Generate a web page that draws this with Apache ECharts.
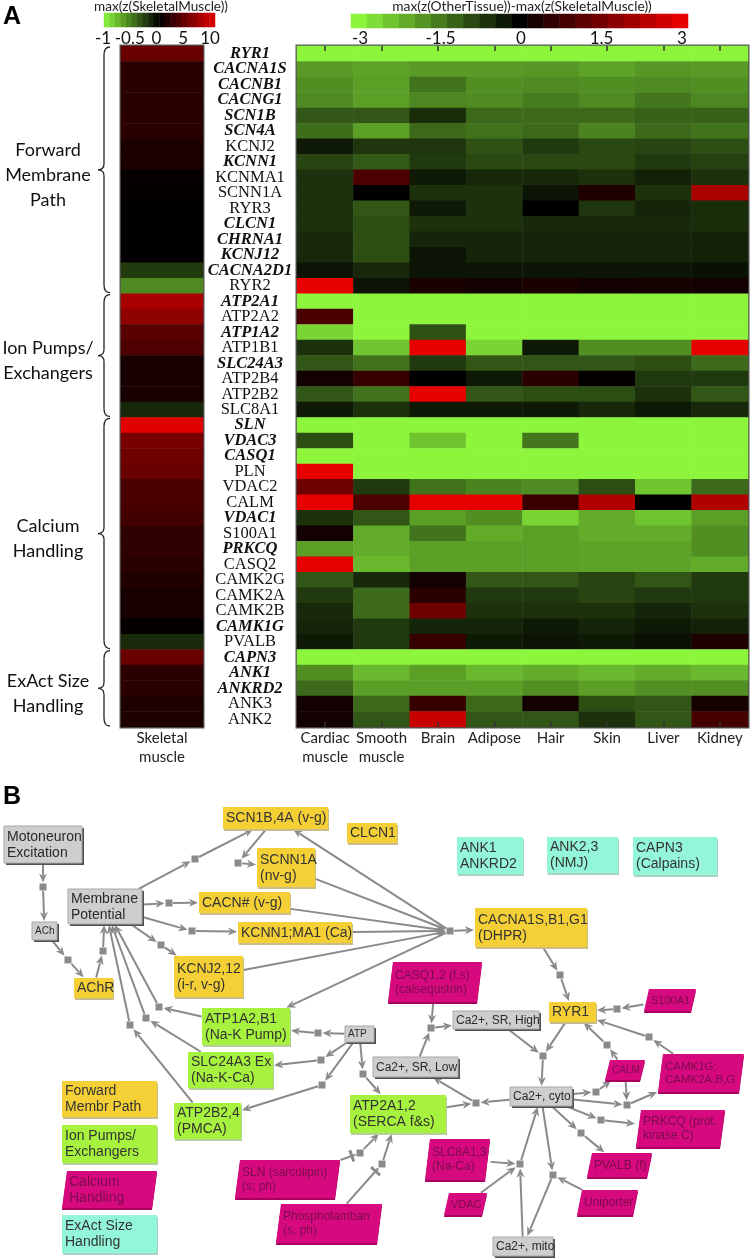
<!DOCTYPE html>
<html><head><meta charset="utf-8">
<script src="https://cdn.jsdelivr.net/npm/echarts@6/dist/echarts.min.js"></script>
<style>html,body{margin:0;padding:0;background:#fff}#c{width:750px;height:1258px}</style>
</head><body><div id="c"></div>
<script>
// ---------------- DATA ----------------
const genes = ['RYR1','CACNA1S','CACNB1','CACNG1','SCN1B','SCN4A','KCNJ2','KCNN1','KCNMA1','SCNN1A','RYR3','CLCN1','CHRNA1','KCNJ12','CACNA2D1','RYR2',
  'ATP2A1','ATP2A2','ATP1A2','ATP1B1','SLC24A3','ATP2B4','ATP2B2','SLC8A1',
  'SLN','VDAC3','CASQ1','PLN','VDAC2','CALM','VDAC1','S100A1','PRKCQ','CASQ2','CAMK2G','CAMK2A','CAMK2B','CAMK1G','PVALB',
  'CAPN3','ANK1','ANKRD2','ANK3','ANK2'];
const boldGenes = ['RYR1','CACNA1S','CACNB1','CACNG1','SCN1B','SCN4A','KCNN1','CLCN1','CHRNA1','KCNJ12','CACNA2D1',
  'ATP2A1','ATP1A2','SLC24A3','SLN','VDAC3','CASQ1','VDAC1','PRKCQ','CAMK1G','CAPN3','ANK1','ANKRD2'];
const groupLabels = ['Forward\nMembrane\nPath','Ion Pumps/\nExchangers','Calcium\nHandling','ExAct Size\nHandling'];
const groupFirstRow = [0,16,24,39];
const groupLastRow = [15,23,38,43];

const skeletalLabel = ['Skeletal\nmuscle'];
const skeletalMuscle = [4.7,1.9,1.9,1.8,1.9,1.9,1.25,1.25,0.3,0.2,0.1,0.1,0.1,0.1,-0.24,-0.56,
  7.5,6.4,4.0,3.5,1.1,1.1,1.1,-0.16,
  10,5.4,5.0,4.7,3.3,3.3,3.0,2.1,2.1,1.8,1.5,1.1,1.1,0.2,-0.17,
  4.7,1.9,1.9,1.4,1.4];

const tissues = ['Cardiac\nmuscle','Smooth\nmuscle','Brain','Adipose','Hair','Skin','Liver','Kidney'];
const cardiac = [-3,-1.9,-1.75,-1.7,-1.05,-1.35,-0.3,-0.85,-0.6,-0.6,-0.6,-0.6,-0.5,-0.5,-0.25,3,
  -3,0.97,-2.6,-0.6,-1.05,0.25,-1.05,-0.3,
  -3,-0.95,-3,3,1.45,3,-0.6,0.25,-1.95,3,-1.05,-0.7,-0.5,-0.45,-0.3,
  -3,-1.75,-1.3,0.25,0.25];
const smooth = [-3,-2.0,-1.95,-1.95,-1.05,-1.95,-0.65,-1.1,1.0,0,-1.05,-0.95,-0.95,-0.95,-0.5,-0.25,
  -3,-3,-3,-2.4,-1.4,0.7,-1.4,-0.6,
  -3,-3,-3,-3,-0.7,1.0,-1.05,-2.1,-2.1,-2.25,-0.5,-1.3,-1.3,-0.7,-0.7,
  -3,-2.25,-1.95,-1.3,-1.05];
const brain = [-3,-1.9,-1.4,-1.65,-0.55,-1.3,-0.65,-0.7,-0.3,-0.6,-0.3,-0.6,-0.45,-0.25,-0.25,0.35,
  -3,-3,-1.0,3,-0.7,0,3,-0.3,
  -3,-2.4,-3,-3,-1.4,3,-1.95,-1.4,-1.95,-1.95,0.25,0.55,1.45,-0.45,0.7,
  -3,-1.95,-1.95,0.7,2.6];
const adipose = [-3,-1.9,-1.75,-1.7,-1.3,-1.4,-1.0,-0.9,-0.5,-0.6,-0.6,-0.6,-0.45,-0.45,-0.25,0.25,
  -3,-3,-3,-2.6,-1.05,-0.3,-1.05,-0.3,
  -3,-3,-3,-3,-1.6,3,-1.75,-2.1,-1.95,-1.95,-1.05,-0.7,-0.6,-0.45,-0.3,
  -3,-2.25,-1.95,-1.3,-1.05];
const hair = [-3,-1.85,-1.7,-1.5,-1.3,-1.3,-0.7,-0.9,-0.5,-0.25,0,-0.5,-0.45,-0.45,-0.25,0.35,
  -3,-3,-3,-0.3,-1.05,0.55,-0.95,-0.3,
  -3,-1.45,-3,-3,-1.7,0.75,-2.6,-1.95,-1.95,-1.95,-1.05,-0.7,-0.6,-0.3,-0.25,
  -3,-2.1,-1.75,0.25,-1.05];
const skin = [-3,-2.0,-1.75,-1.7,-1.3,-1.6,-0.9,-0.9,-0.6,0.4,-0.65,-0.5,-0.45,-0.45,-0.25,0.25,
  -3,-3,-3,-1.75,-1.05,0.05,-0.95,-0.5,
  -3,-3,-3,-3,-0.95,2.3,-2.1,-2.1,-2.0,-2.0,-0.85,-0.85,-0.6,-0.45,-0.3,
  -3,-2.25,-1.95,-0.95,-0.6];
const liver = [-3,-1.85,-1.7,-1.45,-1.2,-1.3,-0.85,-0.7,-0.4,-0.6,-0.45,-0.5,-0.45,-0.45,-0.25,0.3,
  -3,-3,-3,-1.75,-0.95,-0.7,-0.6,-0.3,
  -3,-3,-3,-3,-2.4,0,-2.4,-2.1,-2.0,-2.0,-1.05,-0.7,-0.45,-0.3,-0.2,
  -3,-2.1,-1.75,-1.05,-1.05];
const kidney = [-3,-1.9,-1.75,-1.65,-1.2,-1.4,-0.95,-0.8,-0.6,2.2,-0.55,-0.55,-0.4,-0.4,-0.2,0.25,
  -3,-3,-3,3,-1.3,-0.7,-1.05,-0.5,
  -3,-3,-3,-3,-1.3,2.3,-1.95,-1.75,-1.75,-2.1,-0.7,-0.7,-0.6,-0.4,0.4,
  -3,-2.25,-1.75,0.3,0.9];
const tissueValues = [cardiac, smooth, brain, adipose, hair, skin, liver, kidney];

// colour-bar legends
const skeletalBarTitle = 'max(z(SkeletalMuscle))';
const skeletalBarCells = [-0.95,-0.85,-0.75,-0.65,-0.55,-0.45,-0.35,-0.25,-0.15,-0.05,0.5,1.5,2.5,3.5,4.5,5.5,6.5,7.5,8.5,9.5];
const skeletalBarTicks = ['-1','-0.5','0','5','10'];
const tissueBarTitle = 'max(z(OtherTissue))-max(z(SkeletalMuscle))';
const tissueBarCells = [-3,-2.7,-2.4,-2.1,-1.8,-1.5,-1.2,-0.9,-0.6,-0.3,0,0.3,0.6,0.9,1.2,1.5,1.8,2.1,2.4,2.7,3];

// pathway network (panel B): [id, label, category]
const pathwayNodes = [
  ['mot','Motoneuron\nExcitation','gray'],['ach','ACh','gray'],['mp','Membrane\nPotential','gray'],
  ['achr','AChR','fwd'],['scn1b','SCN1B,4A (v-g)','fwd'],['scnn1a','SCNN1A\n(nv-g)','fwd'],
  ['cacn','CACN# (v-g)','fwd'],['kcnn1','KCNN1;MA1 (Ca)','fwd'],['kcnj2','KCNJ2,12\n(i-r, v-g)','fwd'],
  ['clcn1','CLCN1','fwd'],['ank1','ANK1\nANKRD2','exa'],['ank23','ANK2,3\n(NMJ)','exa'],['capn3','CAPN3\n(Calpains)','exa'],
  ['cacna1s','CACNA1S,B1,G1\n(DHPR)','fwd'],['casq','CASQ1,2 (f,s)\n(calsequstrin)','ca'],['ryr1','RYR1','fwd'],
  ['s100a1','S100A1','ca'],['srhigh','Ca2+, SR, High','gray'],['srlow','Ca2+, SR, Low','gray'],['atp','ATP','gray'],
  ['serca','ATP2A1,2\n(SERCA f&s)','ion'],['cyto','Ca2+, cyto','gray'],['calm','CALM','ca'],
  ['camk','CAMK1G;\nCAMK2A,B,G','ca'],['prkcq','PRKCQ (prot.\nkinase C)','ca'],['pvalb','PVALB (f)','ca'],
  ['slc8a1','SLC8A1,3\n(Na-Ca)','ca'],['vdac','VDAC','ca'],['uniporter','Uniporter','ca'],['mito','Ca2+, mito','gray'],
  ['atp1a2','ATP1A2,B1\n(Na-K Pump)','ion'],['slc24a3','SLC24A3 Ex\n(Na-K-Ca)','ion'],['atp2b','ATP2B2,4\n(PMCA)','ion'],
  ['sln','SLN (sarcolipin)\n(s; ph)','ca'],['pln','Phospholamban\n(s, ph)','ca'],
  ['lg1','Forward\nMembr Path','fwd'],['lg2','Ion Pumps/\nExchangers','ion'],['lg3','Calcium\nHandling','ca'],['lg4','ExAct Size\nHandling','exa'],
  ['p1','','proc'],['p2','','proc'],['p3','','proc'],['p4','','proc'],['p5','','proc'],['p6','','proc'],['p7','','proc'],['p8','','proc'],
  ['hub','','proc'],['p10','','proc'],['p11','','proc'],['p12','','proc'],['p13','','proc'],['p14','','proc'],['p15','','proc'],
  ['p16','','proc'],['p17','','proc'],['p18','','proc'],['p19','','proc'],['p20','','proc'],['p21','','proc'],['p22','','proc'],
  ['p23','','proc'],['p24','','proc'],['p25','','proc'],['p26','','proc'],['p27','','proc'],['p28','','proc'],
  ['p29','','proc'],['p30','','proc'],['p31','','proc']
];
// [from, to, kind]  kind: 'a' activation arrow, 't' inhibition
const pathwayEdges = [
  ['mot','p1','a'],['p1','ach','a'],['ach','p2','a'],['p2','achr','a'],['achr','p3','a'],['p3','mp','a'],
  ['mp','p4','a'],['p4','scn1b','a'],['scn1b','p5','a'],['p5','scnn1a','a'],
  ['mp','p6','a'],['p6','cacn','a'],['mp','p7','a'],['p7','kcnn1','a'],['mp','p8','a'],['p8','kcnj2','a'],
  ['scnn1a','hub','a'],['cacn','hub','a'],['kcnn1','hub','a'],['kcnj2','hub','a'],
  ['hub','cacna1s','a'],['hub','scn1b','a'],['hub','atp1a2','a'],
  ['cacna1s','p10','a'],['p10','ryr1','a'],['s100a1','p11','a'],['p11','ryr1','a'],
  ['camk','p12','a'],['p12','ryr1','a'],['calm','p13','a'],['p13','ryr1','a'],
  ['ryr1','p14','a'],['srhigh','p14','a'],['p14','cyto','a'],
  ['cyto','p15','a'],['serca','p15','a'],['p15','srlow','a'],
  ['srlow','p16','a'],['casq','p16','a'],['p16','srhigh','a'],
  ['atp','p17','a'],['p17','serca','a'],['atp','p18','a'],['p18','atp1a2','a'],
  ['atp','p19','a'],['p19','slc24a3','a'],['atp','p20','a'],['p20','atp2b','a'],
  ['cyto','p21','a'],['p21','calm','a'],['cyto','p22','a'],['calm','p22','a'],['p22','camk','a'],
  ['cyto','p23','a'],['p23','prkcq','a'],['cyto','p24','a'],['p24','pvalb','a'],
  ['cyto','p25','a'],['uniporter','p25','a'],['p25','mito','a'],
  ['slc8a1','p26','a'],['vdac','p26','a'],['mito','p26','a'],['p26','cyto','a'],
  ['sln','p27','t'],['p27','serca','a'],['pln','p28','t'],['p28','serca','a'],
  ['atp1a2','p29','a'],['p29','mp','a'],['slc24a3','p30','a'],['p30','mp','a'],['atp2b','p31','a'],['p31','mp','a']
];

// ---------------- LAYOUT (positions / sizes / styles) ----------------
// panel-B node layout: [centerX, centerY, width, height, fontSize] in diagram units
const pathwayLayout = {
  mot:[43,844.5,78,37,14], ach:[44.5,931,25,18,10], mp:[105,906.5,74,35,14], achr:[93.5,988,39,20,14],
  scn1b:[275.5,818,105,22,14], scnn1a:[286,867.5,58,39,14], cacn:[244.5,902.5,91,21,14], kcnn1:[295,932.5,114,21,14],
  kcnj2:[208.5,976.5,69,41,14], clcn1:[372,833,50,20,14], ank1:[490,855.5,66,37,14], ank23:[582.5,855,71,36,14],
  capn3:[675,856,84,38,14], cacna1s:[531,927.5,112,39,14], casq:[435,982,94,40,12], ryr1:[572.5,1012,47,20,14],
  s100a1:[670,1000,52,22,11], srhigh:[496,1020,86,18,12], srlow:[415.5,1067,85,20,12], atp:[359.5,1034,29,16,10],
  serca:[398,1114,96,38,14], cyto:[541,1096.5,62,19,12], calm:[625,1070,40,20,10], camk:[701,1073,86,38,11.5],
  prkcq:[680.5,1128.5,89,37,12], pvalb:[619.5,1165,65,24,12], slc8a1:[457.5,1159.5,65,41,12], vdac:[465.5,1204,43,22,11],
  uniporter:[607.5,1202.5,61,25,12], mito:[523,1246.5,60,19,12], atp1a2:[246,1026.5,88,37,14], slc24a3:[230.5,1070,85,36,14],
  atp2b:[207.5,1121,67,36,14], sln:[287.5,1179,105,38,12], pln:[329,1223.5,106,39,12],
  lg1:[109.5,1099,95,36,14], lg2:[109.5,1144,95,38,14], lg3:[109.5,1189.5,95,37,14], lg4:[109.5,1234,95,38,14],
  p1:[43,887,7,7], p2:[68,960,7,7], p3:[103,951,7,7], p4:[195,859,7,7], p5:[238,863,7,7], p6:[169,903,7,7],
  p7:[192,931,7,7], p8:[161,945,7,7], hub:[450,931,7,7], p10:[560,975,7,7], p11:[617,1009,7,7], p12:[649,1037,7,7],
  p13:[607,1045,7,7], p14:[543,1056,7,7], p15:[476,1103,7,7], p16:[431,1028,7,7], p17:[363,1074,7,7], p18:[318,1033,7,7],
  p19:[321,1060,7,7], p20:[322,1085,7,7], p21:[596,1092,7,7], p22:[627,1105,7,7], p23:[601,1120,7,7], p24:[581,1133,7,7],
  p25:[553,1175,7,7], p26:[520,1164,7,7], p27:[360,1153,7,7], p28:[382,1164,7,7], p29:[159,1007,7,7], p30:[146,1018,7,7],
  p31:[130,1025,7,7]
};
const nodeStyles = {
  gray:{fill:'#cecece', stroke:'#a8a8a8', shadow:'#505050', sx:2, sy:2, text:'#2a2a2a'},
  fwd:{fill:'#f4d036', shadow:'#c9bd8a', sx:1, sy:2, text:'#333'},
  ion:{fill:'#a6f23e', shadow:'#b7cf9c', sx:1, sy:2, text:'#333'},
  exa:{fill:'#94f6d8', shadow:'#a9d3c6', sx:1, sy:2, text:'#333'},
  ca:{fill:'#d60a7e', shadow:'#a8005e', sx:0, sy:2, text:'#7a0c4d'},
  proc:{fill:'#8a8a8a', text:'#333'}
};
const SERIF = "'Liberation Serif','Times New Roman',serif";
const SANS = "Lato,'Open Sans',sans-serif";
const ARIAL = "'Liberation Sans',Arial,sans-serif";
const HM_TOP = 46, HM_H = 681;

// ---------------- BUILD ----------------
const skelData = skeletalMuscle.map((v,i)=>[0,i,v]);
const tissueData = [];
tissueValues.forEach((arr,j)=>arr.forEach((v,i)=>tissueData.push([j,i,v])));
const boldSet = new Set(boldGenes);

function rectOf(api, id){
  const L = pathwayLayout[id];
  const a = api.coord([L[0]-L[2]/2, L[1]-L[3]/2]);
  const b = api.coord([L[0]+L[2]/2, L[1]+L[3]/2]);
  return {cx:(a[0]+b[0])/2, cy:(a[1]+b[1])/2, w:Math.abs(b[0]-a[0]), h:Math.abs(b[1]-a[1])};
}
function exitT(R, ux, uy){
  const tx = Math.abs(ux) > 1e-9 ? (R.w/2)/Math.abs(ux) : Infinity;
  const ty = Math.abs(uy) > 1e-9 ? (R.h/2)/Math.abs(uy) : Infinity;
  return Math.min(tx, ty);
}
const EDGE = '#8a8a8a';
function renderEdge(params, api){
  const e = pathwayEdges[params.dataIndex];
  const A = rectOf(api, e[0]), B = rectOf(api, e[1]);
  const dx = B.cx-A.cx, dy = B.cy-A.cy, len = Math.hypot(dx,dy);
  const ux = dx/len, uy = dy/len, nx = -uy, ny = ux;
  const tA = exitT(A, ux, uy), tB = exitT(B, ux, uy);
  const p0 = [A.cx+ux*(tA+0.5), A.cy+uy*(tA+0.5)];
  const p1 = [B.cx-ux*(tB+1), B.cy-uy*(tB+1)];
  const ch = [];
  if (e[2] === 't') {
    ch.push({type:'line', shape:{x1:p0[0],y1:p0[1],x2:p1[0],y2:p1[1]}, style:{stroke:EDGE,lineWidth:2}});
    const q = [p1[0]-ux*4, p1[1]-uy*4];
    ch.push({type:'line', shape:{x1:q[0]+nx*6,y1:q[1]+ny*6,x2:q[0]-nx*6,y2:q[1]-ny*6}, style:{stroke:EDGE,lineWidth:3}});
  } else {
    const hl = 9, hw = 4;
    const b = [p1[0]-ux*hl, p1[1]-uy*hl];
    ch.push({type:'line', shape:{x1:p0[0],y1:p0[1],x2:b[0]+ux*2,y2:b[1]+uy*2}, style:{stroke:EDGE,lineWidth:2}});
    ch.push({type:'polygon', shape:{points:[p1,[b[0]+nx*hw,b[1]+ny*hw],[b[0]+ux*2.5,b[1]+uy*2.5],[b[0]-nx*hw,b[1]-ny*hw]]}, style:{fill:EDGE}});
  }
  return {type:'group', children:ch};
}
function renderNode(params, api){
  const n = pathwayNodes[params.dataIndex];
  const id = n[0], label = n[1], kind = n[2];
  const L = pathwayLayout[id];
  const fs = L[4] || 14;
  const st = nodeStyles[kind];
  const R = rectOf(api, id);
  const x0 = R.cx-R.w/2, y0 = R.cy-R.h/2;
  const ch = [];
  if (kind === 'ca') {
    const s = 5;
    const pts = [[x0+s,y0],[x0+R.w,y0],[x0+R.w-s,y0+R.h],[x0,y0+R.h]];
    ch.push({type:'polygon', shape:{points:pts.map(p=>[p[0]+st.sx,p[1]+st.sy])}, style:{fill:st.shadow}});
    ch.push({type:'polygon', shape:{points:pts}, style:{fill:st.fill}});
  } else if (kind === 'proc') {
    ch.push({type:'rect', shape:{x:x0,y:y0,width:R.w,height:R.h}, style:{fill:st.fill}});
  } else {
    ch.push({type:'rect', shape:{x:x0+st.sx,y:y0+st.sy,width:R.w,height:R.h}, style:{fill:st.shadow}});
    ch.push({type:'rect', shape:{x:x0,y:y0,width:R.w,height:R.h}, style:{fill:st.fill, stroke:st.stroke||null, lineWidth:st.stroke?1:0}});
  }
  if (label) {
    ch.push({type:'text', x:x0+(kind==='ca'?7:3), y:R.cy+0.5,
      style:{text:label, fill:st.text, fontSize:fs, fontFamily:ARIAL, align:'left', verticalAlign:'middle', lineHeight:fs+2}});
  }
  return {type:'group', children:ch};
}

const chart = echarts.init(document.getElementById('c'), null, {renderer:'canvas', width:750, height:1258});

const hidden = {show:false};
const graphic = [];
graphic.push({type:'text', x:3, y:5, style:{text:'A', fontSize:25, fontWeight:'bold', fontFamily:ARIAL, fill:'#000'}});
graphic.push({type:'text', x:3, y:785, style:{text:'B', fontSize:25, fontWeight:'bold', fontFamily:ARIAL, fill:'#000'}});
graphic.push({type:'text', x:161, y:7, style:{text:skeletalBarTitle, fontSize:13.6, fontFamily:SANS, fill:'#222', align:'center', verticalAlign:'middle'}});
graphic.push({type:'text', x:522, y:7, style:{text:tissueBarTitle, fontSize:13.8, fontFamily:SANS, fill:'#222', align:'center', verticalAlign:'middle'}});
const rowH = HM_H / genes.length;
const braceStyle = {stroke:'#222', lineWidth:1.3, fill:null};
groupLabels.forEach((lab, g)=>{
  const y0 = HM_TOP + groupFirstRow[g]*rowH + 1, y1 = HM_TOP + (groupLastRow[g]+1)*rowH - 1, ym = (y0+y1)/2;
  graphic.push({type:'bezierCurve', shape:{x1:110,y1:y0,cpx1:104,cpy1:y0,x2:104,y2:y0+8}, style:braceStyle});
  graphic.push({type:'line', shape:{x1:104,y1:y0+8,x2:104,y2:ym-6}, style:braceStyle});
  graphic.push({type:'bezierCurve', shape:{x1:104,y1:ym-6,cpx1:104,cpy1:ym,x2:98,y2:ym}, style:braceStyle});
  graphic.push({type:'bezierCurve', shape:{x1:98,y1:ym,cpx1:104,cpy1:ym,x2:104,y2:ym+6}, style:braceStyle});
  graphic.push({type:'line', shape:{x1:104,y1:ym+6,x2:104,y2:y1-8}, style:braceStyle});
  graphic.push({type:'bezierCurve', shape:{x1:104,y1:y1-8,cpx1:104,cpy1:y1,x2:110,y2:y1}, style:braceStyle});
  graphic.push({type:'text', x:48, y:ym+5, style:{text:lab, fontSize:18, fontFamily:SANS, fill:'#111', align:'center', verticalAlign:'middle', lineHeight:25}});
});

const option = {
  animation:false,
  backgroundColor:'#fff',
  grid:[
    {left:121, top:HM_TOP, width:82, height:HM_H, show:true, borderColor:'#555', borderWidth:3},
    {left:297, top:HM_TOP, width:451, height:HM_H, show:true, borderColor:'#555', borderWidth:3},
    {left:104, top:13, width:111, height:14},
    {left:351, top:14, width:337, height:14},
    {left:0, top:790, width:750, height:468},
    {left:103, top:13, width:107, height:14},
    {left:360, top:14, width:322, height:14}
  ],
  xAxis:[
    {gridIndex:0, type:'category', data:skeletalLabel, axisLine:hidden, axisTick:hidden,
      axisLabel:{margin:2, fontSize:15, lineHeight:19, fontFamily:SANS, color:'#222'}},
    {gridIndex:1, type:'category', data:tissues, position:'bottom', z:10, axisLine:hidden,
      axisTick:{show:true, inside:true, alignWithLabel:true, length:5, lineStyle:{color:'#333', width:1.5}},
      axisLabel:{margin:2, fontSize:15, lineHeight:19, fontFamily:SANS, color:'#222', interval:0}},
    {gridIndex:1, type:'category', data:tissues, position:'top', z:10, axisLine:hidden,
      axisTick:{show:true, inside:true, alignWithLabel:true, length:5, lineStyle:{color:'#333', width:1.5}}, axisLabel:hidden},
    {gridIndex:2, type:'category', data:skeletalBarCells.map(String), show:false},
    {gridIndex:3, type:'category', data:tissueBarCells.map(String), show:false},
    {gridIndex:4, type:'value', min:0, max:750, show:false},
    {gridIndex:5, type:'category', data:skeletalBarTicks, boundaryGap:false, axisLine:hidden, axisTick:hidden,
      axisLabel:{margin:3, fontSize:17, fontFamily:SANS, color:'#111', interval:0}},
    {gridIndex:6, type:'value', min:-3, max:3, interval:1.5, axisLine:hidden, axisTick:hidden, splitLine:hidden,
      axisLabel:{margin:2, fontSize:17, fontFamily:SANS, color:'#111'}}
  ],
  yAxis:[
    {gridIndex:0, type:'category', data:genes, inverse:true, show:false},
    {gridIndex:1, type:'category', data:genes, inverse:true, axisLine:hidden, axisTick:hidden,
      axisLabel:{interval:0, align:'center', margin:47, color:'#111',
        formatter:v=> boldSet.has(v) ? '{b|'+v+'}' : '{n|'+v+'}',
        rich:{b:{fontFamily:SERIF, fontSize:16.5, fontWeight:'bold', fontStyle:'italic', color:'#111'},
              n:{fontFamily:SERIF, fontSize:16.5, color:'#111'}}}},
    {gridIndex:2, type:'category', data:['bar'], show:false},
    {gridIndex:3, type:'category', data:['bar'], show:false},
    {gridIndex:4, type:'value', min:790, max:1258, inverse:true, show:false},
    {gridIndex:5, type:'value', min:0, max:1, show:false},
    {gridIndex:6, type:'value', min:0, max:1, show:false}
  ],
  visualMap:[
    {type:'continuous', show:false, seriesIndex:[0,2], dimension:2, min:-1, max:10,
      inRange:{color:['#8cf53c','#000000','#160000','#2c0000','#430000','#590000','#700000','#860000','#9c0000','#b30000','#c90000','#e00000']}},
    {type:'continuous', show:false, seriesIndex:[1,3], dimension:2, min:-3, max:3,
      inRange:{color:['#8cf53c','#000000','#e60000']}}
  ],
  series:[
    {type:'heatmap', xAxisIndex:0, yAxisIndex:0, data:skelData, silent:true},
    {type:'heatmap', xAxisIndex:1, yAxisIndex:1, data:tissueData, silent:true},
    {type:'heatmap', xAxisIndex:3, yAxisIndex:2, data:skeletalBarCells.map((v,i)=>[i,0,v]), silent:true},
    {type:'heatmap', xAxisIndex:4, yAxisIndex:3, data:tissueBarCells.map((v,i)=>[i,0,v]), silent:true},
    {type:'custom', coordinateSystem:'cartesian2d', xAxisIndex:5, yAxisIndex:4, silent:true, z:2, clip:false,
      data:pathwayEdges.map(e=>pathwayLayout[e[0]].slice(0,2)), encode:{x:0,y:1}, renderItem:renderEdge},
    {type:'custom', coordinateSystem:'cartesian2d', xAxisIndex:5, yAxisIndex:4, silent:true, z:3, clip:false,
      data:pathwayNodes.map(n=>pathwayLayout[n[0]].slice(0,2)), encode:{x:0,y:1}, renderItem:renderNode}
  ],
  graphic:graphic
};
chart.setOption(option);
</script></body></html>
